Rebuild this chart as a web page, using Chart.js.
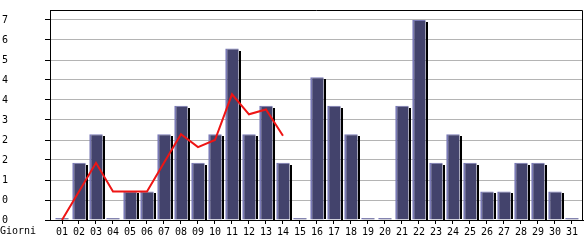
<!DOCTYPE html>
<html>
<head>
<meta charset="utf-8">
<script src="https://cdn.jsdelivr.net/npm/chart.js@4/dist/chart.umd.min.js"></script>
<style>
  html, body { margin: 0; padding: 0; background: #ffffff; }
  canvas { display: block; }
</style>
</head>
<body>
<canvas id="c" width="585" height="240"></canvas>
<script>
// ---- data ----
const days = ['01','02','03','04','05','06','07','08','09','10','11','12','13','14','15','16',
              '17','18','19','20','21','22','23','24','25','26','27','28','29','30','31'];
const visits = [0,2,3,0,1,1,3,4,2,3,6,3,4,2,0,5,4,3,0,0,4,7,2,3,2,1,1,2,2,1,0];
const trendDays = ['01','02','03','04','05','06','07','08','09','10','11','12','13','14'];
const trend = [0,1,2,1,1,1,2,3,2.55,2.8,4.4,3.7,3.87,2.95];
const yTickValues = [0,0.7,1.4,2.1,2.8,3.5,4.2,4.9,5.6,6.3,7.0];
const yTickLabels = ['0','0','1','2','2','3','4','4','5','6','7'];
const xAxisName = 'Giorni';

const FONT = { family: '"DejaVu Sans Mono", "Liberation Mono", monospace', size: 10 };

const shadowPlugin = {
  id: 'barShadow',
  beforeDatasetDraw(chart, args) {
    if (args.index !== 0) return;
    const ctx = chart.ctx;
    const meta = args.meta;
    ctx.save();
    ctx.fillStyle = '#000000';
    meta.data.forEach((el, i) => {
      if (!visits[i]) return;
      const p = el.getProps(['x','y','base','width'], true);
      ctx.fillRect(Math.round(p.x + p.width / 2), Math.round(p.y + 2), 2, Math.round(p.base - p.y - 2));
    });
    ctx.restore();
  }
};

const framePlugin = {
  id: 'frame',
  afterDraw(chart) {
    const { ctx, chartArea: a } = chart;
    ctx.save();
    ctx.strokeStyle = '#000000';
    ctx.lineWidth = 1;
    ctx.beginPath();
    ctx.moveTo(a.left, a.top + 0.5);
    ctx.lineTo(a.right - 0.5, a.top + 0.5);
    ctx.lineTo(a.right - 0.5, a.bottom);
    ctx.stroke();
    ctx.fillStyle = '#000000';
    ctx.font = FONT.size + 'px ' + FONT.family;
    ctx.textBaseline = 'middle';
    ctx.textAlign = 'left';
    ctx.fillText(xAxisName, 0, 231);
    ctx.restore();
  }
};

new Chart(document.getElementById('c'), {
  data: {
    datasets: [
      {
        type: 'bar',
        order: 1,
        data: days.map((d, i) => ({ x: +d, y: visits[i] })),
        backgroundColor: '#43436c',
        borderColor: '#7a7ab6',
        borderWidth: { left: 2, top: 1, right: 0, bottom: 0 },
        borderSkipped: false,
        minBarLength: 2,
        barPercentage: 0.79,
        categoryPercentage: 1
      },
      {
        type: 'line',
        order: 0,
        data: trendDays.map((d, i) => ({ x: +d, y: trend[i] })),
        borderColor: '#ee1515',
        borderWidth: 2,
        pointRadius: 0,
        tension: 0,
        fill: false
      }
    ]
  },
  options: {
    responsive: false,
    animation: false,
    devicePixelRatio: 1,
    layout: { padding: { top: 10, right: 2, left: 2, bottom: 0 } },
    plugins: { legend: { display: false }, tooltip: { enabled: false } },
    scales: {
      x: {
        type: 'linear',
        offset: false,
        min: 0.294,
        max: 31.65,
        afterBuildTicks(scale) { scale.ticks = days.map(d => ({ value: +d })); },
        afterFit(scale) { scale.height = 20; },
        ticks: {
          autoSkip: false,
          maxRotation: 0,
          color: '#000000',
          font: FONT,
          padding: 2,
          callback: (v, i) => days[i]
        },
        grid: { offset: false, drawOnChartArea: false, tickLength: 4, tickColor: '#000000' },
        border: { display: true, color: '#000000', width: 1 }
      },
      y: {
        min: 0,
        max: 7.35,
        afterBuildTicks(scale) { scale.ticks = yTickValues.map(v => ({ value: v })); },
        afterFit(scale) { scale.width = 48; },
        ticks: {
          color: '#000000',
          font: FONT,
          crossAlign: 'far',
          padding: 2,
          callback: (v, i) => yTickLabels[i]
        },
        grid: { color: '#b4b4b4', tickLength: 5, tickColor: '#000000', lineWidth: 1 },
        border: { display: true, color: '#000000', width: 1 }
      }
    }
  },
  plugins: [shadowPlugin, framePlugin]
});
</script>
</body>
</html>
